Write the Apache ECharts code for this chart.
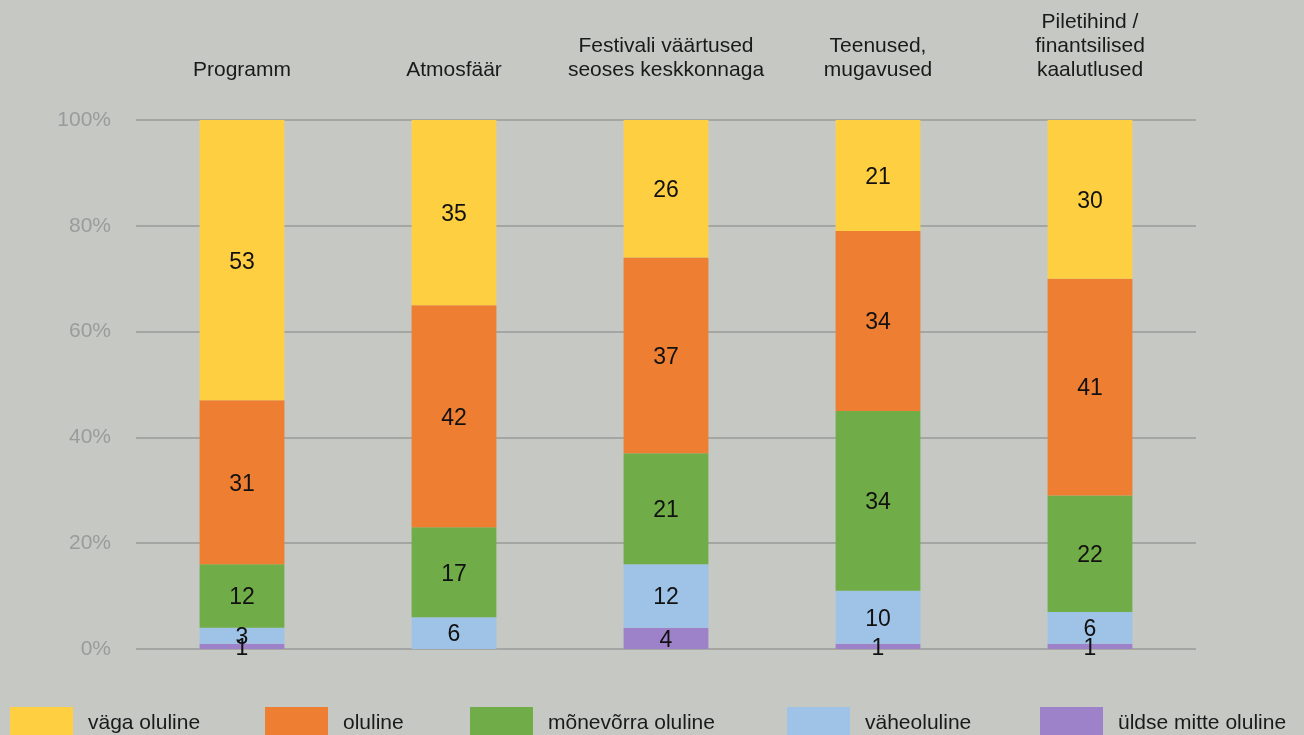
<!DOCTYPE html>
<html>
<head>
<meta charset="utf-8">
<script src="https://cdn.jsdelivr.net/npm/echarts@6/dist/echarts.min.js"></script>
<style>
html,body{margin:0;padding:0;background:#c6c8c4;}
#chart{width:1304px;height:735px;}
</style>
</head>
<body>
<div id="chart"></div>
<script>
const categories = ["Programm", "Atmosfäär", "Festivali väärtused\nseoses keskkonnaga", "Teenused,\nmugavused", "Piletihind /\nfinantsilised\nkaalutlused"];
const yTickLabels = ["0%", "20%", "40%", "60%", "80%", "100%"];
const uldseMitte = [1, 0, 4, 1, 1];
const vaheoluline = [3, 6, 12, 10, 6];
const monevorra = [12, 17, 21, 34, 22];
const oluline = [31, 42, 37, 34, 41];
const vagaOluline = [53, 35, 26, 21, 30];

const seriesDefs = [
  {name: "üldse mitte oluline", data: uldseMitte, color: "#9e82c9"},
  {name: "väheoluline", data: vaheoluline, color: "#9ec3e6"},
  {name: "mõnevõrra oluline", data: monevorra, color: "#70ac47"},
  {name: "oluline", data: oluline, color: "#ee7e32"},
  {name: "väga oluline", data: vagaOluline, color: "#fecf40"}
];
const legendOrder = ["väga oluline", "oluline", "mõnevõrra oluline", "väheoluline", "üldse mitte oluline"];
const legendLeft = [10, 265, 470, 787, 1040];

const font = "'Liberation Sans', Arial, sans-serif";
const chart = echarts.init(document.getElementById('chart'));
chart.setOption({
  backgroundColor: "#c6c8c4",
  animation: false,
  grid: {left: 136, right: 108, top: 120, bottom: 86},
  legend: legendOrder.map((n, i) => ({
    data: [n], left: legendLeft[i], top: 707, icon: 'rect', padding: 0,
    itemWidth: 63, itemHeight: 32, selectedMode: false,
    textStyle: {fontFamily: font, fontSize: 21, color: '#1a1a1a', padding: [0, 0, 0, 10]}
  })),
  xAxis: {
    type: 'category', position: 'top', data: categories,
    axisLine: {show: false}, axisTick: {show: false},
    axisLabel: {fontFamily: font, fontSize: 21, color: '#1a1a1a', lineHeight: 24, margin: 38, interval: 0}
  },
  yAxis: {
    type: 'value', min: 0, max: 100, interval: 20,
    axisLine: {show: false}, axisTick: {show: false},
    splitLine: {lineStyle: {color: '#9a9a9a', width: 1.5}},
    axisLabel: {fontFamily: font, fontSize: 21, color: '#9b9b9b', margin: 25,
      formatter: v => yTickLabels[Math.round(v / 20)]}
  },
  series: seriesDefs.map(s => ({
    name: s.name, type: 'bar', stack: 'total', data: s.data, barWidth: '40%',
    itemStyle: {color: s.color},
    label: {show: true, position: 'inside', offset: [0, 2], fontFamily: font, fontSize: 23, color: '#111',
      formatter: p => p.value ? String(p.value) : ''}
  }))
});
</script>
</body>
</html>
